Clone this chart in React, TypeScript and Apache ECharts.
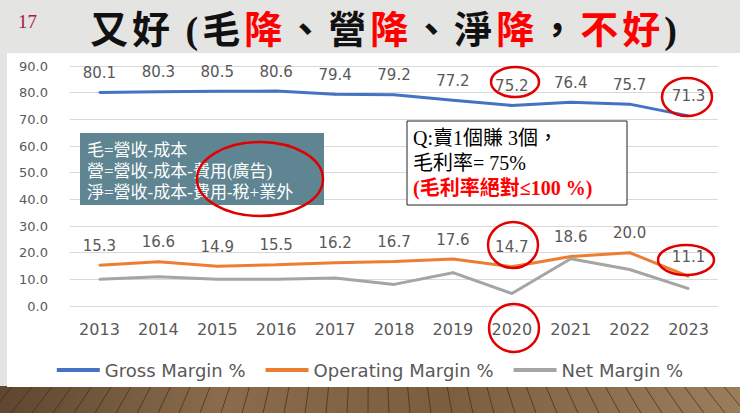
import { useEffect, useRef } from 'react'
import * as echarts from 'echarts'

const years = ['2013', '2014', '2015', '2016', '2017', '2018', '2019', '2020', '2021', '2022', '2023']
const grossMargin = [80.1, 80.3, 80.5, 80.6, 79.4, 79.2, 77.2, 75.2, 76.4, 75.7, 71.3]
const operatingMargin = [15.3, 16.6, 14.9, 15.5, 16.2, 16.7, 17.6, 14.7, 18.6, 20.0, 11.1]
const netMargin = [10.0, 11.0, 10.0, 10.0, 10.5, 8.1, 12.5, 4.7, 17.7, 13.7, 6.5]
const seriesNames = ['Gross Margin %', 'Operating Margin %', 'Net Margin %']
const yMin = 0
const yMax = 90
const yStep = 10

// title pieces: text, red or not
const titleParts: [string, boolean][] = [
  ['又好 (毛', false],
  ['降', true],
  ['、營', false],
  ['降', true],
  ['、淨', false],
  ['降', true],
  ['，', false],
  ['不好', true],
  [')', false]
]
const defLines = ['毛=營收-成本', '營=營收-成本-費用(廣告)', '淨=營收-成本-費用-稅+業外']
const noteLines = ['Q:賣1個賺 3個，', '毛利率= 75%']
const noteRed = '(毛利率絕對≤100 %)'

const gray = '#595959'
const red = '#e00000'
const serif = '"Liberation Serif", "Noto Sans CJK TC", serif'
const sans = '"DejaVu Sans", Verdana, sans-serif'

function titleText() {
  // one token per character so the glyphs can be spread out like the slide
  return titleParts
    .map(([s, isRed]) =>
      Array.from(s)
        .map((c) => (c === ' ' ? '{sp| }' : `{${isRed ? 'r' : 'k'}|${c}}`))
        .join('')
    )
    .join('')
}

function woodFloor() {
  const items: any[] = [
    {
      type: 'rect',
      z: -20,
      shape: { x: 0, y: 386, width: 740, height: 27 },
      style: {
        fill: new echarts.graphic.LinearGradient(0, 0, 1, 0, [
          { offset: 0, color: '#5e4630' },
          { offset: 0.3, color: '#8a6c4c' },
          { offset: 0.6, color: '#7b5e40' },
          { offset: 1, color: '#9a7e5c' }
        ])
      }
    }
  ]
  // plank seams, leaning toward the middle like the photo's perspective
  for (let x = -10; x < 760; x += 21) {
    const lean = (x - 370) * 0.06
    items.push({
      type: 'line',
      z: -19,
      shape: { x1: x, y1: 413, x2: x - lean, y2: 386 },
      style: { stroke: '#3f2c1b', lineWidth: 1, opacity: 0.7 }
    })
  }
  return items
}

function ring(cx: number, cy: number, rx: number, ry: number) {
  return {
    type: 'ellipse',
    z: 30,
    shape: { cx, cy, rx, ry },
    style: { fill: 'none', stroke: red, lineWidth: 2.5 }
  }
}

export default function App() {
  const ref = useRef<HTMLDivElement>(null)

  useEffect(() => {
    if (!ref.current) return
    const chart = echarts.init(ref.current, undefined, { renderer: 'svg' })

    const lineSeries = (name: string, data: number[], color: string, labels: boolean) => ({
      name,
      type: 'line',
      data,
      symbol: 'circle',
      symbolSize: 2,
      lineStyle: { color, width: 3 },
      itemStyle: { color },
      label: {
        show: labels,
        position: 'top',
        distance: 11,
        color: gray,
        fontSize: 15,
        fontFamily: sans,
        formatter: (p: any) => Number(p.value).toFixed(1)
      },
      emphasis: { disabled: true }
    })

    const glyph = { fontSize: 38, fontFamily: serif, fontWeight: 'bold', padding: [0, 2] }

    chart.setOption({
      animation: false,
      backgroundColor: '#e4e4e2',
      title: {
        left: 88,
        top: 11,
        padding: 0,
        text: titleText(),
        textStyle: {
          rich: {
            k: { ...glyph, color: '#111' },
            r: { ...glyph, color: '#ff0000' },
            sp: { ...glyph, color: '#111', padding: [0, 1] }
          }
        }
      },
      legend: {
        data: seriesNames,
        left: 'center',
        top: 356,
        icon: 'rect',
        itemWidth: 43,
        itemHeight: 4,
        itemGap: 20,
        textStyle: { color: gray, fontSize: 18, fontFamily: sans }
      },
      grid: { left: 70, right: 22, top: 66, bottom: 107 },
      xAxis: {
        type: 'category',
        data: years,
        axisLine: { show: false },
        axisTick: { show: false },
        axisLabel: { color: gray, fontSize: 16, fontFamily: sans, margin: 15 }
      },
      yAxis: {
        type: 'value',
        min: yMin,
        max: yMax,
        interval: yStep,
        axisLine: { show: false },
        axisTick: { show: false },
        splitLine: { lineStyle: { color: '#d9d9d9', width: 1 } },
        axisLabel: {
          color: gray,
          fontSize: 13,
          fontFamily: sans,
          margin: 22,
          formatter: (v: number) => v.toFixed(1)
        }
      },
      series: [
        lineSeries(seriesNames[0], grossMargin, '#4472c4', true),
        lineSeries(seriesNames[1], operatingMargin, '#ed7d31', true),
        lineSeries(seriesNames[2], netMargin, '#a5a5a5', false)
      ],
      graphic: [
        {
          type: 'rect',
          z: -10,
          shape: { x: 7, y: 53, width: 733, height: 334 },
          style: { fill: '#ffffff' }
        },
        ...woodFloor(),
        {
          type: 'text',
          z: 5,
          x: 18,
          y: 12,
          style: { text: '17', fill: '#a3213f', fontSize: 19, fontFamily: serif }
        },
        {
          type: 'rect',
          z: 10,
          shape: { x: 80, y: 133, width: 244, height: 72 },
          style: { fill: '#5e8591' }
        },
        ...defLines.map((t, i) => ({
          type: 'text',
          z: 11,
          x: 87,
          y: 150 + i * 21,
          style: {
            text: t,
            fill: '#ffffff',
            fontSize: 17,
            fontFamily: serif,
            verticalAlign: 'middle'
          }
        })),
        {
          type: 'rect',
          z: 10,
          shape: { x: 407, y: 121, width: 220, height: 84 },
          style: { fill: '#ffffff', stroke: '#222', lineWidth: 1 }
        },
        ...noteLines.map((t, i) => ({
          type: 'text',
          z: 11,
          x: 413,
          y: 138 + i * 25,
          style: { text: t, fill: '#000', fontSize: 20, fontFamily: serif, verticalAlign: 'middle' }
        })),
        {
          type: 'text',
          z: 11,
          x: 413,
          y: 188,
          style: {
            text: noteRed,
            fill: '#ff0000',
            fontSize: 20,
            fontWeight: 'bold',
            fontFamily: serif,
            verticalAlign: 'middle'
          }
        },
        ring(260, 179, 63, 37),
        ring(515, 82, 24, 15),
        ring(687, 97, 25, 19),
        ring(513, 245, 25, 23),
        ring(686, 260, 28, 15),
        ring(514, 328, 25, 24)
      ]
    })

    return () => chart.dispose()
  }, [])

  return (
    <div
      ref={ref}
      style={{ position: 'fixed', left: 0, top: 0, width: 740, height: 413 }}
    />
  )
}
